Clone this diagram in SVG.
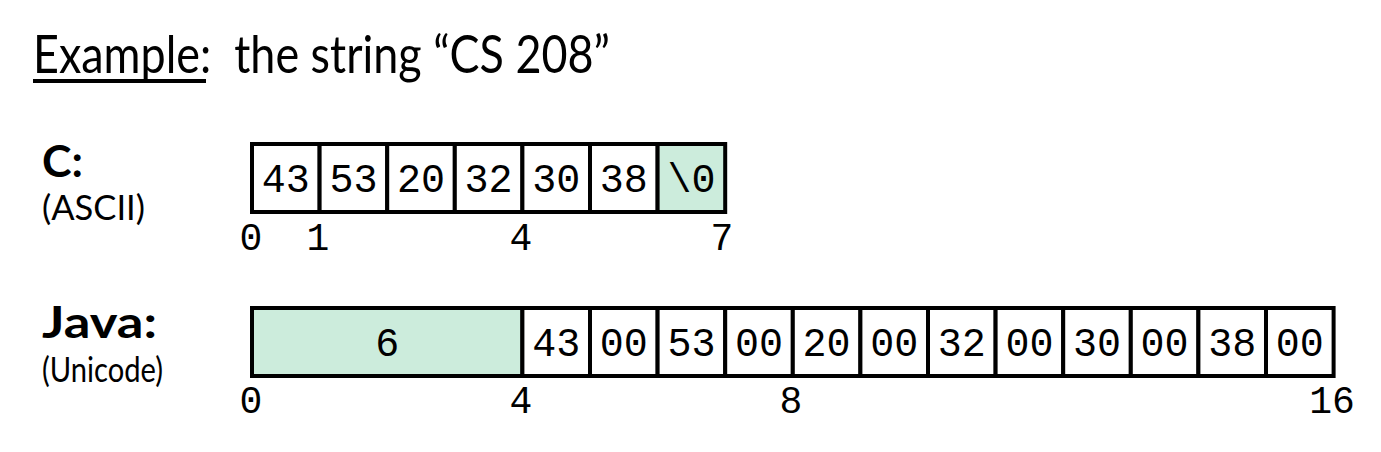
<svg xmlns="http://www.w3.org/2000/svg" width="1381" height="452" viewBox="0 0 1381 452">
<style>
.bg{fill:#ffffff}
.title{font-family:Lato,"Open Sans",sans-serif;font-size:52px;fill:#000;white-space:pre}
.head{font-family:Lato,"Open Sans",sans-serif;font-weight:bold;font-size:43px;fill:#000}
.sub{font-family:Lato,"Open Sans",sans-serif;font-size:34px;fill:#000}
.cell{fill:#ffffff;stroke:#000;stroke-width:4}
.hl{fill:#ccecdc;stroke:#000;stroke-width:4}
.mono{font-family:"Liberation Mono","Courier New",monospace;font-size:40px;fill:#000;text-anchor:middle;font-weight:normal}
.idx{font-family:"Liberation Mono","Courier New",monospace;font-size:38px;fill:#000;text-anchor:middle}
</style>
<rect class="bg" x="0" y="0" width="1381" height="452"/>
<g id="title">
<text class="title" x="33" y="73" xml:space="preserve" textLength="577" lengthAdjust="spacingAndGlyphs">Example:  the string “CS 208”</text>
<rect x="33" y="79" width="173" height="4" fill="#000"/>
</g>
<g id="c-label">
<text class="head" x="42" y="177" textLength="41" lengthAdjust="spacingAndGlyphs">C:</text>
<text class="sub" x="42" y="220" textLength="103" lengthAdjust="spacingAndGlyphs">(ASCII)</text>
</g>
<g id="java-label">
<text class="head" x="42" y="338" textLength="115" lengthAdjust="spacingAndGlyphs">Java:</text>
<text class="sub" x="42" y="382" textLength="121" lengthAdjust="spacingAndGlyphs">(Unicode)</text>
</g>
<g id="c-string">
<rect class="cell" x="252" y="144" width="67.6" height="68"/>
<rect class="cell" x="319.6" y="144" width="67.6" height="68"/>
<rect class="cell" x="387.2" y="144" width="67.6" height="68"/>
<rect class="cell" x="454.8" y="144" width="67.6" height="68"/>
<rect class="cell" x="522.4" y="144" width="67.6" height="68"/>
<rect class="cell" x="590" y="144" width="67.6" height="68"/>
<rect class="hl" x="657.6" y="144" width="67.6" height="68"/>
<text class="mono" x="285.8" y="192">43</text>
<text class="mono" x="353.4" y="192">53</text>
<text class="mono" x="421" y="192">20</text>
<text class="mono" x="488.6" y="192">32</text>
<text class="mono" x="556.2" y="192">30</text>
<text class="mono" x="623.8" y="192">38</text>
<text class="mono" x="691.4" y="192">\0</text>
<text class="idx" x="251" y="250">0</text>
<text class="idx" x="318" y="250">1</text>
<text class="idx" x="521" y="250">4</text>
<text class="idx" x="722" y="250">7</text>
</g>
<g id="java-string">
<rect class="hl" x="252" y="308" width="270.4" height="68"/>
<rect class="cell" x="522.4" y="308" width="67.6" height="68"/>
<rect class="cell" x="590" y="308" width="67.6" height="68"/>
<rect class="cell" x="657.6" y="308" width="67.6" height="68"/>
<rect class="cell" x="725.2" y="308" width="67.6" height="68"/>
<rect class="cell" x="792.8" y="308" width="67.6" height="68"/>
<rect class="cell" x="860.4" y="308" width="67.6" height="68"/>
<rect class="cell" x="928" y="308" width="67.6" height="68"/>
<rect class="cell" x="995.6" y="308" width="67.6" height="68"/>
<rect class="cell" x="1063.2" y="308" width="67.6" height="68"/>
<rect class="cell" x="1130.8" y="308" width="67.6" height="68"/>
<rect class="cell" x="1198.4" y="308" width="67.6" height="68"/>
<rect class="cell" x="1266" y="308" width="67.6" height="68"/>
<text class="mono" x="387.2" y="356">6</text>
<text class="mono" x="556.2" y="356">43</text>
<text class="mono" x="623.8" y="356">00</text>
<text class="mono" x="691.4" y="356">53</text>
<text class="mono" x="759" y="356">00</text>
<text class="mono" x="826.6" y="356">20</text>
<text class="mono" x="894.2" y="356">00</text>
<text class="mono" x="961.8" y="356">32</text>
<text class="mono" x="1029.4" y="356">00</text>
<text class="mono" x="1097" y="356">30</text>
<text class="mono" x="1164.6" y="356">00</text>
<text class="mono" x="1232.2" y="356">38</text>
<text class="mono" x="1299.8" y="356">00</text>
<text class="idx" x="251" y="413">0</text>
<text class="idx" x="521" y="413">4</text>
<text class="idx" x="791" y="413">8</text>
<text class="idx" x="1332" y="413">16</text>
</g>
</svg>
